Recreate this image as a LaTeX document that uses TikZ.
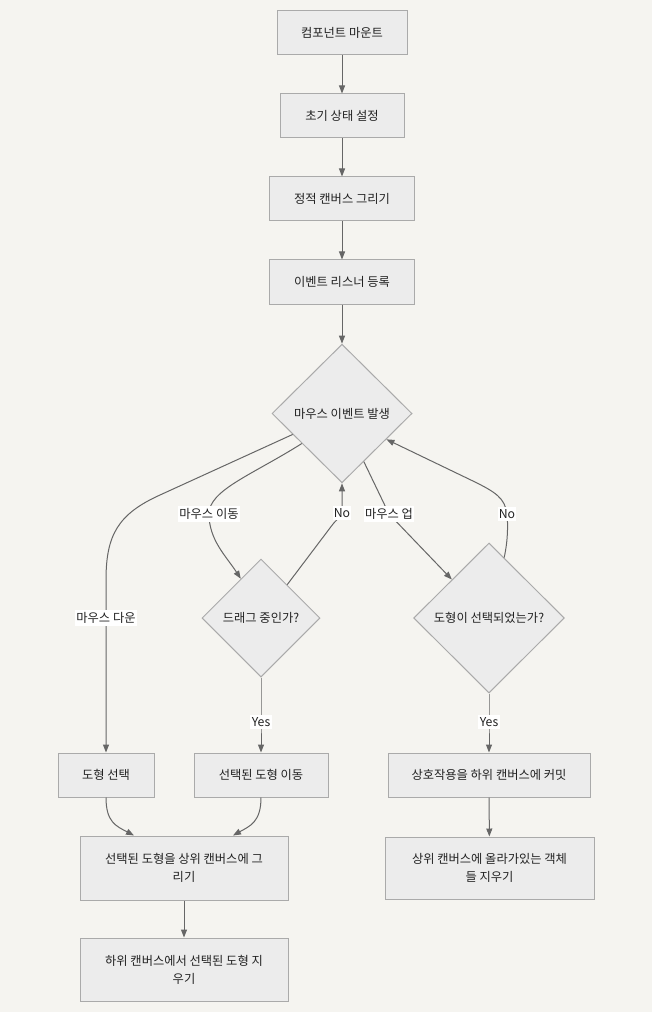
\documentclass[tikz,border=0pt]{standalone}
\usepackage{fontspec}
\setmainfont{Noto Sans CJK KR}
\usetikzlibrary{shapes.geometric,arrows.meta,calc}
\definecolor{bg}{HTML}{F5F4F0}
\definecolor{nodefill}{HTML}{ECECEC}
\definecolor{nodeline}{HTML}{AAAAAA}
\definecolor{edgecol}{HTML}{666666}
\definecolor{txt}{HTML}{222222}
\begin{document}
\begin{tikzpicture}[x=0.75pt,y=-0.75pt,
  every node/.style={font=\fontsize{9.2pt}{13.5pt}\selectfont, text=txt},
  box/.style={draw=nodeline, fill=nodefill, line width=0.75pt, minimum height=33pt, inner sep=0pt, align=center},
  dia/.style={diamond, aspect=1, draw=nodeline, fill=nodefill, line width=0.75pt, inner sep=0pt, align=center},
  edge/.style={draw=edgecol, line width=0.75pt, -{Triangle[length=6pt,width=4.5pt]}},
  lbl/.style={fill=white, inner xsep=1pt, inner ysep=2pt}]
\fill[bg] (0,0) rectangle (652,1012);
\useasboundingbox (0,0) rectangle (652,1012);

\node[box, minimum width=97.5pt] (n1) at (342,33) {컴포넌트 마운트};
\node[box, minimum width=93pt] (n2) at (342,116) {초기 상태 설정};
\node[box, minimum width=108.75pt] (n3) at (342,199) {정적 캔버스 그리기};
\node[box, minimum width=108.75pt] (n4) at (342,282) {이벤트 리스너 등록};
\node[dia, minimum width=105pt, minimum height=104pt] (d5) at (342,413.5) {마우스 이벤트 발생};
\node[dia, minimum width=88.5pt, minimum height=88.5pt] (d6) at (261,618) {드래그 중인가?};
\node[dia, minimum width=113pt, minimum height=112.5pt] (d7) at (489,618) {도형이 선택되었는가?};
\node[box, minimum width=72pt] (n8) at (106,775) {도형 선택};
\node[box, minimum width=100.5pt] (n9) at (261,775) {선택된 도형 이동};
\node[box, minimum width=151.5pt] (n10) at (489,775) {상호작용을 하위 캔버스에 커밋};
\node[box, minimum width=156pt, minimum height=48pt] (n11) at (184,868) {선택된 도형을 상위 캔버스에 그\\리기};
\node[box, minimum width=156.75pt, minimum height=46.5pt] (n12) at (489.5,868) {상위 캔버스에 올라가있는 객체\\들 지우기};
\node[box, minimum width=156pt, minimum height=47.25pt] (n13) at (184,969.5) {하위 캔버스에서 선택된 도형 지\\우기};

\draw[edge] (n1) -- (n2);
\draw[edge] (n2) -- (n3);
\draw[edge] (n3) -- (n4);
\draw[edge] (n4) -- (d5.north);

\draw[edge] ($(d5.west)!0.3!(d5.south)$) -- (160,495) .. controls (118,514) and (106,535) .. (106,580) -- (106,618) node[lbl]{마우스 다운} -- (n8.north);
\draw[edge] ($(d5.west)!0.43!(d5.south)$) .. controls (252,475) and (209,490) .. (209,514) node[lbl]{마우스 이동} .. controls (209,540) and (226,556) .. ($(d6.west)!0.66!(d6.north)$);
\draw[edge] ($(d6.north)!0.44!(d6.east)$) -- (333,524) .. controls (338,518) and (342,516) .. (342,513) node[lbl]{No} -- (d5.south);
\draw[edge] ($(d5.south)!0.31!(d5.east)$) -- (389,514) node[lbl]{마우스 업} -- ($(d7.west)!0.51!(d7.north)$);
\draw[edge] ($(d7.north)!0.2!(d7.east)$) .. controls (508,540) and (508,525) .. (507,514) node[lbl]{No} .. controls (505,498) and (495,492) .. (475,482) -- ($(d5.east)!0.37!(d5.south)$);

\draw[edge] (d6.south) -- (261,722) node[lbl]{Yes} -- (n9.north);
\draw[edge] (d7.south) -- (489,722) node[lbl]{Yes} -- (n10.north);

\draw[edge] (n8.south) .. controls (106,822) and (116,826) .. ($(n11.north)+(-50,0)$);
\draw[edge] (n9.south) .. controls (261,822) and (250,826) .. ($(n11.north)+(49,0)$);
\draw[edge] (n11) -- (n13);
\draw[edge] (n10) -- (n12);
\end{tikzpicture}
\end{document}
